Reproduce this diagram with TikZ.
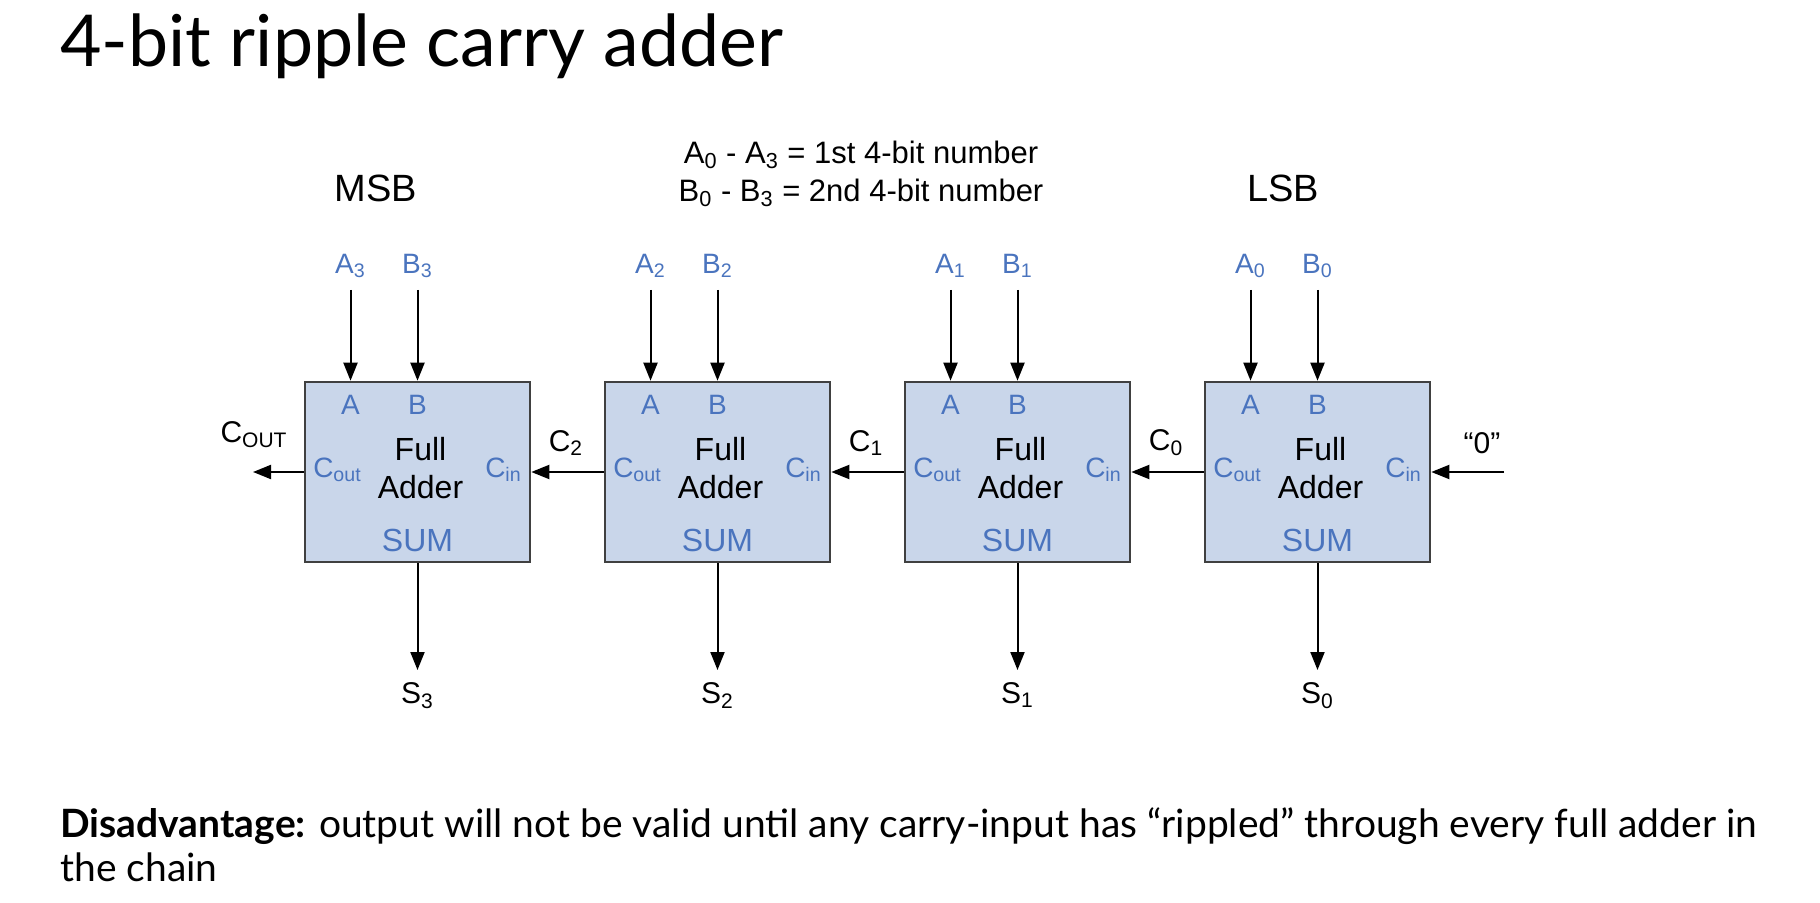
\documentclass[tikz,border=0pt]{standalone}
\usepackage{fontspec}
\setmainfont{Lato}
\newfontfamily\diagfont{Liberation Sans}
\usetikzlibrary{arrows.meta,positioning}
\definecolor{fafill}{RGB}{201,214,234}
\definecolor{faedge}{RGB}{64,64,64}
\definecolor{pinblue}{RGB}{74,116,190}

\begin{document}
\begin{tikzpicture}[
  x=0.5pt, y=-0.5pt,
  font=\diagfont,
  fa/.style   ={draw=faedge, fill=fafill, line width=1.3pt, minimum width=112.5pt, minimum height=90pt, inner sep=0pt},
  pinlbl/.style={text=pinblue, font=\diagfont\fontsize{14}{16}\selectfont, inner sep=1pt},
  inlbl/.style ={text=pinblue, font=\diagfont\fontsize{14}{16}\selectfont, anchor=south, inner xsep=0pt, inner ysep=6pt},
  carry/.style ={font=\diagfont\fontsize{15}{17}\selectfont, inner sep=1pt},
  sumlbl/.style={font=\diagfont\fontsize{15}{17}\selectfont, anchor=north, inner xsep=0pt, inner ysep=6pt},
  wire/.style  ={line width=1pt, ->},
  >={Triangle[length=9pt,width=7pt]}
]
\useasboundingbox (0,0) rectangle (1820,903);

% title and footnote
\node[anchor=base west, inner sep=0pt, font=\rmfamily\fontsize{35.8}{42}\selectfont] (title) at (60,67) {4-bit ripple carry adder};
\node[anchor=north west, align=left, inner sep=0pt, font=\rmfamily\fontsize{19.5}{22}\selectfont] (note) at (60,807)
  {\textbf{Disadvantage:} output will not be valid until any carry-input has “rippled” through every full adder in\\the chain};

% legend
\node[font=\diagfont\fontsize{15.5}{19}\selectfont, align=center] (legend) at (861,174)
  {A\textsubscript{0} - A\textsubscript{3} = 1st 4-bit number\\B\textsubscript{0} - B\textsubscript{3} = 2nd 4-bit number};
\node[font=\diagfont\fontsize{19}{22}\selectfont] (msb) at (376,188) {MSB};
\node[font=\diagfont\fontsize{19}{22}\selectfont] (lsb) at (1283,188) {LSB};

% the four full adders, MSB on the left
\foreach \i/\k in {3/0,2/1,1/2,0/3} {
  \pgfmathsetmacro\cx{417.5+300*\k}
  \node[fa] (fa\i) at (\cx,472) {};
  \node[pinlbl] (pa\i) at ({\cx-67},405) {A};
  \node[pinlbl] (pb\i) at (\cx,405) {B};
  \node[pinlbl] (pco\i) at ({\cx-80},470) {C\textsubscript{out}};
  \node[pinlbl] (pci\i) at ({\cx+86},470) {C\textsubscript{in}};
  \node[pinlbl, font=\diagfont\fontsize{16}{18}\selectfont] (ps\i) at (\cx,540) {SUM};
  \node[align=center, font=\diagfont\fontsize{16}{19}\selectfont, inner sep=0pt] (name\i) at ({\cx+3},468) {Full\\Adder};
  \node[inlbl] (ina\i) at ({\cx-67},290) {A\textsubscript{\i}};
  \node[inlbl] (inb\i) at (\cx,290) {B\textsubscript{\i}};
  \node[sumlbl] (s\i) at (\cx,670) {S\textsubscript{\i}};
  \draw[wire] (ina\i.south) -- (ina\i.south |- fa\i.north);
  \draw[wire] (inb\i.south) -- (inb\i.south |- fa\i.north);
  \draw[wire] (fa\i.south) -- (s\i.north);
}

% carry chain
\coordinate (cout) at (253,472);
\coordinate (zero) at (1504,472);
\draw[wire] (fa3.west) -- (cout);
\draw[wire] (fa2.west) -- (fa3.east);
\draw[wire] (fa1.west) -- (fa2.east);
\draw[wire] (fa0.west) -- (fa1.east);
\draw[wire] (zero) -- (fa0.east);

\node[carry] (lcout) at (254,435) {C\textsubscript{OUT}};
\node[carry] (lc2) at (566,443) {C\textsubscript{2}};
\node[carry] (lc1) at (866,443) {C\textsubscript{1}};
\node[carry] (lc0) at (1166,443) {C\textsubscript{0}};
\node[carry] (lzero) at (1482,443) {“0”};
\end{tikzpicture}
\end{document}
